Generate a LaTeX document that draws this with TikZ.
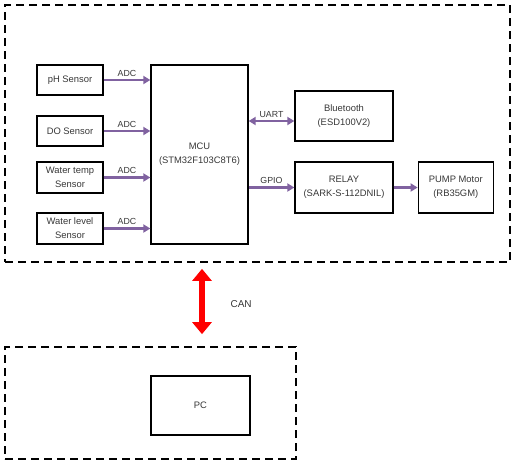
\documentclass[tikz,border=0pt]{standalone}
\usepackage{fontspec}
\setmainfont{Liberation Sans}
\usetikzlibrary{positioning, arrows.meta}

\definecolor{busline}{RGB}{128,98,160}
\definecolor{labeltext}{RGB}{55,55,55}

\tikzset{
    block/.style={draw, line width=1.3pt, align=center, text=labeltext,
                  font=\fontsize{9.4}{14}\selectfont, inner sep=0pt},
    group/.style={draw, dashed, line width=1.7pt, dash pattern=on 8pt off 5pt, inner sep=0pt},
    bus/.style={draw=busline, line width=2.2pt},
    buslabel/.style={text=labeltext, font=\fontsize{8.8}{10}\selectfont, above, inner sep=2.5pt}
}

\begin{document}
\begin{tikzpicture}[x=1pt, y=-1pt, >={Triangle[length=7pt, width=8pt]}]
    \useasboundingbox (0,0) rectangle (520,467);

    % dashed groups
    \node[group, minimum width=505pt, minimum height=257pt] (board) at (257.5,133.5) {};
    \node[group, minimum width=291pt, minimum height=112pt] (host) at (150.5,403) {};

    % main controller
    \node[block, minimum width=97pt, minimum height=179pt] (mcu) at (199.5,154.5) {MCU\\(STM32F103C8T6)};

    % sensors
    \node[block, minimum width=66pt, minimum height=30pt] (ph) at (70,80) {pH Sensor};
    \node[block, minimum width=66pt, minimum height=30pt] (do) at (70,131) {DO Sensor};
    \node[block, minimum width=66pt, minimum height=31pt] (temp) at (70,177.5) {Water temp\\Sensor};
    \node[block, minimum width=66pt, minimum height=31pt] (level) at (70,228.5) {Water level\\Sensor};

    % outputs
    \node[block, minimum width=98pt, minimum height=50pt] (bt) at (344,116) {Bluetooth\\(ESD100V2)};
    \node[block, minimum width=98pt, minimum height=51pt] (relay) at (344,187.5) {RELAY\\(SARK-S-112DNIL)};
    \node[block, minimum width=75pt, minimum height=51pt] (pump) [right=24pt of relay] {PUMP Motor\\(RB35GM)};

    \node[block, minimum width=99pt, minimum height=59pt] (pc) at (200.5,405.5) {PC};

    % ADC lines
    \foreach \s in {ph, do, temp, level}
        \draw[bus, ->] (\s.east) -- node[buslabel] {ADC} (\s.east -| mcu.west);

    \draw[bus, <->] ([yshift=-5pt]bt.west -| mcu.east) -- node[buslabel] {UART} ([yshift=-5pt]bt.west);
    \draw[bus, ->] (relay.west -| mcu.east) -- node[buslabel] {GPIO} (relay.west);
    \draw[bus, ->] (relay) -- (pump);

    % CAN link
    \coordinate (cantop) at (board.south -| 202,0);
    \coordinate (canbot) at (host.north -| 202,0);
    \draw[red, line width=6.5pt, {Triangle[length=12pt, width=19pt]}-{Triangle[length=12pt, width=19pt]},
          shorten <=6pt, shorten >=12pt] (cantop) -- node[right=22pt, text=labeltext,
          font=\fontsize{10}{12}\selectfont] {CAN} (canbot);
\end{tikzpicture}
\end{document}
